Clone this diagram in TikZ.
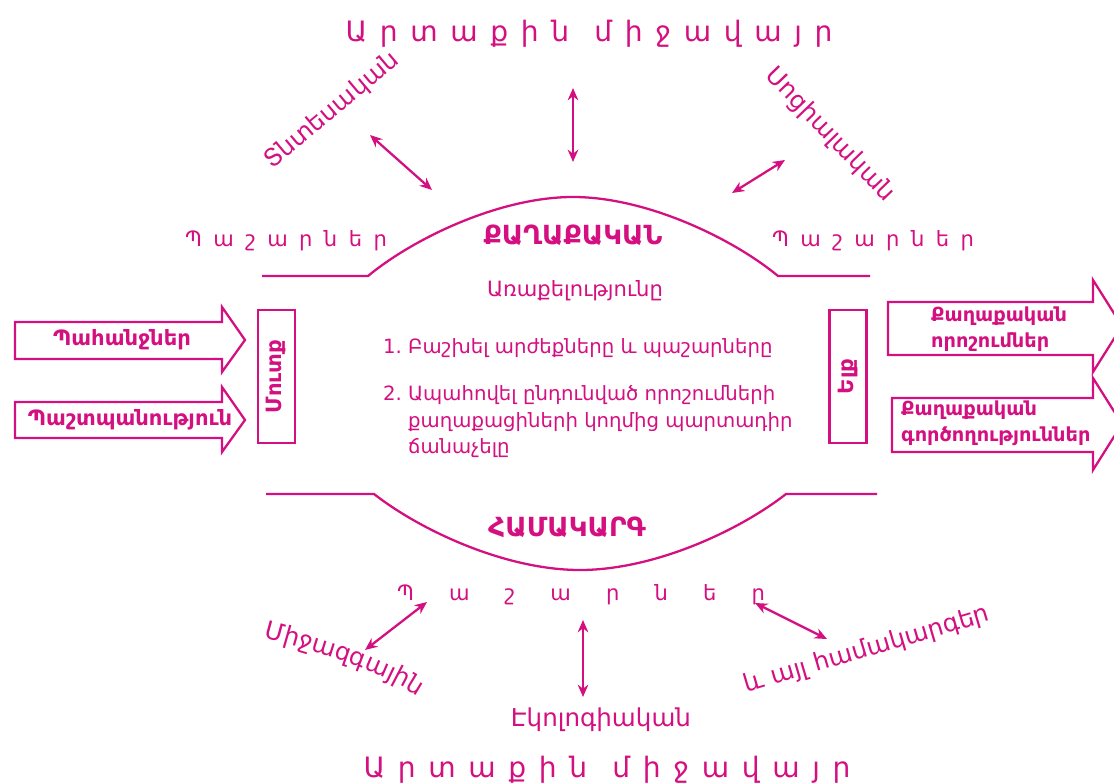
\documentclass[tikz,border=0pt]{standalone}
\usepackage{fontspec}
\setmainfont{DejaVu Sans}
\usetikzlibrary{positioning,calc,arrows.meta,decorations.text}
\definecolor{mag}{RGB}{212,16,128}

\begin{document}
\begin{tikzpicture}[
    x=0.02cm,y=-0.02cm,
    color=mag,
    line width=1.3pt
  ]
\def\px{0.02cm}

\useasboundingbox (0,0) rectangle (1114,783);

\tikzstyle{big}=[font={\fontsize{16}{19}\selectfont\spaceskip=7.2pt\relax}];
\tikzstyle{res}=[font={\fontsize{12}{14}\selectfont\spaceskip=6.5pt\relax}];
\tikzstyle{resw}=[font={\fontsize{12}{14}\selectfont\spaceskip=20pt\relax}];
\tikzstyle{env}=[font=\fontsize{14}{17}\selectfont];
\tikzstyle{head}=[font=\bfseries\fontsize{15}{18}\selectfont];
\tikzstyle{txt}=[font=\fontsize{11.2}{15.3}\selectfont];
\tikzstyle{btxt}=[font=\bfseries\fontsize{11}{14.7}\selectfont,align=left,inner sep=0pt];
\tikzstyle{atxt}=[font=\bfseries\fontsize{12}{14}\selectfont,inner sep=0pt];
\tikzstyle{gate}=[draw,rotate=90,minimum width=133*\px,minimum height=37*\px,inner sep=0pt,font=\bfseries\fontsize{12}{14}\selectfont];
\tikzstyle{dbl}=[{Stealth[length=7pt,width=6pt]}-{Stealth[length=7pt,width=6pt]}];

% outer environment
\node[big,anchor=base] (envtop) at (589,42) {Ա ր տ ա ք ի ն\ \ մ ի ջ ա վ ա յ ր};
\node[big,anchor=base] (envbot) at (607,777) {Ա ր տ ա ք ի ն\ \ մ ի ջ ա վ ա յ ր};

\node[env,rotate=40] (econ) at (332,111) {Տնտեսական};
\node[env,rotate=-46] (soc) at (830,135) {Սոցիալական};
\path[decorate,decoration={text along path,text align=center,
  text={|\fontsize{14}{17}\selectfont|Միջազգային},text color=mag}]
  (252,634) .. controls (330,655) and (385,672) .. (428,703);
\node[env] (eco) at (601,720) {Էկոլոգիական};
\node[env,rotate=16.5] (other) at (867,650) {և այլ համակարգեր};

% resources
\node[res,anchor=base] (resl) at (286,247) {Պ ա շ ա ր ն ե ր};
\node[res,anchor=base] (resr) at (873,247) {Պ ա շ ա ր ն ե ր};
\node[resw,anchor=base] (resb) at (581,600) {Պ ա շ ա ր ն ե ր};

% links to the environment
\coordinate (econA) at (370,135); \coordinate (econB) at (432,190);
\coordinate (topA) at (573,88); \coordinate (topB) at (573,162);
\coordinate (socA) at (785,160); \coordinate (socB) at (732,193);
\coordinate (intlA) at (427,602); \coordinate (intlB) at (365,650);
\coordinate (ecoA) at (583,620); \coordinate (ecoB) at (583,697);
\coordinate (othA) at (755,603); \coordinate (othB) at (827,639);

\draw[dbl] (econA) -- (econB);
\draw[dbl] (topA) -- (topB);
\draw[dbl] (socA) -- (socB);
\draw[dbl] (intlA) -- (intlB);
\draw[dbl] (ecoA) -- (ecoB);
\draw[dbl] (othA) -- (othB);

% system outline
\coordinate (tl) at (262,276); \coordinate (ta) at (368,276);
\coordinate (tp) at (573,197);
\coordinate (tb) at (778,276); \coordinate (tr) at (870,276);
\draw (tl) -- (ta) .. controls (414,238) and (500,197) .. (tp)
  .. controls (646,197) and (732,238) .. (tb) -- (tr);

\coordinate (bl) at (266,494); \coordinate (ba) at (374,494);
\coordinate (bp) at (580,570);
\coordinate (bb) at (786,494); \coordinate (br) at (877,494);
\draw (bl) -- (ba) .. controls (420,530) and (505,570) .. (bp)
  .. controls (655,570) and (740,530) .. (bb) -- (br);

\node[head] (pol) at (573,235) {ՔԱՂԱՔԱԿԱՆ};
\node[head] (sys) at (567,527) {ՀԱՄԱԿԱՐԳ};
\node[txt,font=\fontsize{12}{15}\selectfont] (mission) at (575,291) {Առաքելությունը};

\node[txt,anchor=base west,inner sep=0pt] (goals) at (382,354) {\begin{tabular}[t]{@{}l@{\ }l@{}}
1.&Բաշխել արժեքները և պաշարները\\[11pt]
2.&Ապահովել ընդունված որոշումների\\
&քաղաքացիների կողմից պարտադիր\\
&ճանաչելը\end{tabular}};

% input / output
\node[gate] (input) at (276.5,376.5) {Մուտք};
\node[gate] (output) at (848,376.5) {Ելք};

\draw (15,322) -- (222,322) -- (222,307) -- (245,340) -- (222,372) -- (222,359) -- (15,359) -- cycle;
\draw (15,402) -- (222,402) -- (222,387) -- (245,420) -- (222,452) -- (222,438) -- (15,438) -- cycle;
\node[atxt] (dem) at (122,340) {Պահանջներ};
\node[atxt] (supp) at (130,420) {Պաշտպանություն};

\draw (888,302) -- (1093,302) -- (1093,280) -- (1122,326) -- (1093,372) -- (1093,355) -- (888,355) -- cycle;
\draw (892,398) -- (1093,398) -- (1093,378) -- (1122,424) -- (1093,470) -- (1093,452) -- (892,452) -- cycle;
\node[btxt,anchor=west] (decis) at (930,329) {Քաղաքական\\որոշումներ};
\node[btxt,anchor=west] (acts) at (900,423) {Քաղաքական\\գործողություններ};

\end{tikzpicture}
\end{document}
